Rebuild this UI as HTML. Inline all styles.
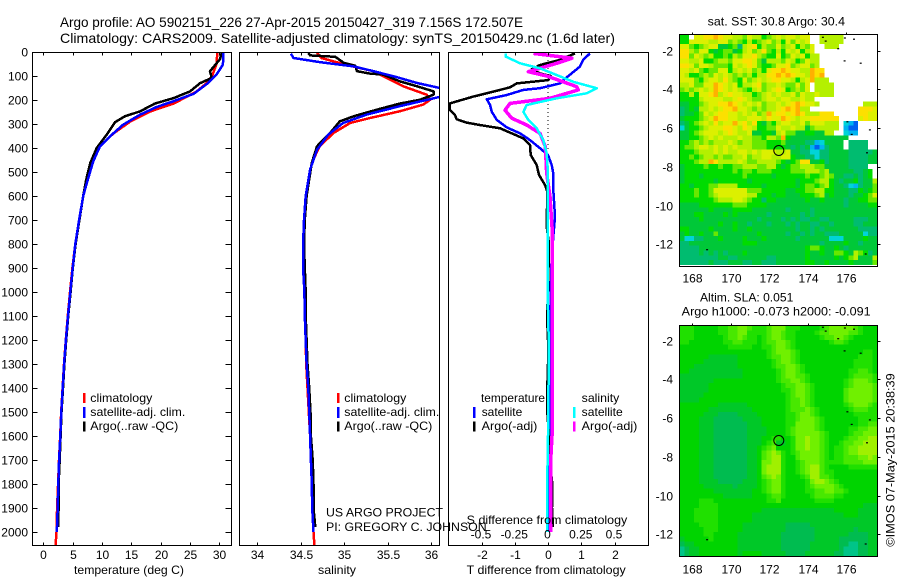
<!DOCTYPE html>
<html>
<head>
<meta charset="utf-8">
<title>Argo profile 5902151_226</title>
<style>
html,body{margin:0;padding:0;background:#fff;width:900px;height:580px;overflow:hidden}
svg{display:block}
text{font-family:"Liberation Sans",sans-serif;font-size:12px;fill:#000}
</style>
</head>
<body>
<svg id="chart" width="900" height="580" viewBox="0 0 900 580" xmlns="http://www.w3.org/2000/svg">
<defs>
<clipPath id="clip1"><rect x="32.5" y="52.5" width="199" height="493"/></clipPath>
<clipPath id="clip2"><rect x="239.5" y="52.5" width="200" height="493"/></clipPath>
<clipPath id="clip3"><rect x="448.5" y="52.5" width="200" height="493"/></clipPath>
</defs>
<text x="60" y="27" font-size="14" style="font-size:14px" textLength="463" lengthAdjust="spacingAndGlyphs">Argo profile: AO 5902151_226 27-Apr-2015 20150427_319 7.156S 172.507E</text>
<text x="60" y="43" style="font-size:14px" textLength="555" lengthAdjust="spacingAndGlyphs">Climatology: CARS2009. Satellite-adjusted climatology: synTS_20150429.nc (1.6d later)</text>

<g id="layer-maps"></g>
<g id="layer-lines1" clip-path="url(#clip1)"></g>
<g id="layer-lines2" clip-path="url(#clip2)"></g>
<g id="layer-lines3" clip-path="url(#clip3)"></g>
<g id="layer-axes"></g>

<text x="129" y="574" text-anchor="middle" textLength="110" lengthAdjust="spacingAndGlyphs">temperature (deg C)</text>
<text x="337" y="574" text-anchor="middle" textLength="38" lengthAdjust="spacingAndGlyphs">salinity</text>
<text x="466.7" y="574" textLength="159" lengthAdjust="spacingAndGlyphs">T difference from climatology</text>
<text x="466.7" y="524" textLength="160.6" lengthAdjust="spacingAndGlyphs">S difference from climatology</text>

<g>
<rect x="83" y="393" width="2.5" height="10" fill="#ff0000"/>
<rect x="83" y="407" width="2.5" height="11" fill="#0000ff"/>
<rect x="83" y="421.5" width="2.5" height="10" fill="#000"/>
<text x="90.3" y="402" textLength="62" lengthAdjust="spacingAndGlyphs">climatology</text>
<text x="90.3" y="416" textLength="95" lengthAdjust="spacingAndGlyphs">satellite-adj. clim.</text>
<text x="90.3" y="430" textLength="88" lengthAdjust="spacingAndGlyphs">Argo(..raw -QC)</text>
</g>
<g>
<rect x="337" y="393" width="2.5" height="10" fill="#ff0000"/>
<rect x="337" y="407" width="2.5" height="11" fill="#0000ff"/>
<rect x="337" y="421.5" width="2.5" height="10" fill="#000"/>
<text x="344.3" y="402" textLength="62" lengthAdjust="spacingAndGlyphs">climatology</text>
<text x="344.3" y="416" textLength="95" lengthAdjust="spacingAndGlyphs">satellite-adj. clim.</text>
<text x="344.3" y="430" textLength="88" lengthAdjust="spacingAndGlyphs">Argo(..raw -QC)</text>
</g>
<g>
<text x="481" y="402" textLength="64" lengthAdjust="spacingAndGlyphs">temperature</text>
<rect x="473" y="407" width="2.5" height="11" fill="#0000ff"/>
<rect x="473" y="421.5" width="2.5" height="10" fill="#000"/>
<text x="481.7" y="416" textLength="40.6" lengthAdjust="spacingAndGlyphs">satellite</text>
<text x="481.7" y="430" textLength="55.6" lengthAdjust="spacingAndGlyphs">Argo(-adj)</text>
<text x="581.7" y="402" textLength="37.6" lengthAdjust="spacingAndGlyphs">salinity</text>
<rect x="573" y="407" width="2.5" height="11" fill="#00ffff"/>
<rect x="573" y="421.5" width="2.5" height="10" fill="#ff00ff"/>
<text x="581.7" y="416" textLength="41" lengthAdjust="spacingAndGlyphs">satellite</text>
<text x="581.7" y="430" textLength="55.6" lengthAdjust="spacingAndGlyphs">Argo(-adj)</text>
</g>

<text x="326" y="516.7" textLength="117" lengthAdjust="spacingAndGlyphs">US ARGO PROJECT</text>
<text x="326" y="531" textLength="160.7" lengthAdjust="spacingAndGlyphs">PI: GREGORY C. JOHNSON</text>

<text x="707.7" y="25.5" textLength="137.3" lengthAdjust="spacingAndGlyphs">sat. SST: 30.8 Argo: 30.4</text>
<text x="700" y="301.7" textLength="93.3" lengthAdjust="spacingAndGlyphs">Altim. SLA: 0.051</text>
<text x="681.7" y="315.3" textLength="189" lengthAdjust="spacingAndGlyphs">Argo h1000: -0.073 h2000: -0.091</text>
<text transform="translate(894.5,546.7) rotate(-90)" textLength="173.4" lengthAdjust="spacingAndGlyphs">©IMOS 07-May-2015 20:38:39</text>
</svg>

<script>
// ---- axis ticks ----
const depthTicks = [0,100,200,300,400,500,600,700,800,900,1000,1100,1200,1300,1400,1500,1600,1700,1800,1900,2000];
const tempTicks = [0,5,10,15,20,25,30];
const salinityTicks = [34,34.5,35,35.5,36];
const salinityTickLabels = ['34','34.5','35','35.5','36'];
const tDiffTicks = [-2,-1,0,1,2];
const sDiffTicks = [-0.5,-0.25,0,0.25,0.5];
const sDiffTickLabels = ['-0.5','-0.25','0','0.25','0.5'];
const lonTicks = [168,170,172,174,176];
const latTicks = [-2,-4,-6,-8,-10,-12];

// ---- temperature profiles (depth m, deg C) ----
const tempClimDepth = [0,50,100,130,165,215,248,290,340,393,450,532,600,700,800,900,1000,1100,1200,1300,1400,1500,1600,1700,1800,1900,2000,2054];
const tempClimValue = [29.66,29.5,28.75,27.8,26.1,22.2,18.2,14.8,11.9,9.66,8.5,7.4,6.8,6.1,5.45,4.95,4.55,4.18,3.83,3.53,3.28,3.05,2.88,2.68,2.52,2.35,2.25,2.1];
const tempArgoDepth = [4,30,80,108,130,164,192,215,247,268,293,344,400,462,532,600,700,800,900,1000,1100,1200,1300,1400,1500,1600,1700,1800,1900,1980];
const tempArgoValue = [30.4,30.1,28.4,28.7,26.7,25,22.2,19,16.5,13.9,12.2,10.8,9.1,8,7.3,6.8,6.15,5.5,5.02,4.65,4.25,3.9,3.6,3.35,3.1,2.95,2.8,2.6,2.6,2.5];
const tempSatDepth = [4,53,94,129,174,205,229,261,303,351,393,456,539,600,700,800,900,1000,1100,1200,1300,1400,1500,1600,1700,1800,1900,2000];
const tempSatValue = [30.7,30.6,29.5,28.1,25.6,22.2,19.3,16.5,13.6,11.4,9.66,8.5,7.5,6.8,6.1,5.45,5,4.6,4.2,3.85,3.55,3.3,3.07,2.9,2.7,2.55,2.45,2.3];

// ---- salinity profiles (depth m, psu) ----
const salClimDepth = [4,25,39,60,80,108,143,178,199,219,247,275,296,337,393,462,600,700,800,900,1000,1100,1200,1300,1400,1500,1600,1700,1800,1900,2000,2054];
const salClimValue = [34.69,34.74,34.88,35.1,35.34,35.49,35.68,35.95,35.99,35.91,35.64,35.3,35.07,34.88,34.72,34.63,34.56,34.54,34.535,34.54,34.545,34.55,34.56,34.565,34.58,34.595,34.61,34.62,34.63,34.635,34.65,34.66];
const salArgoDepth = [4,14,20,46,57,80,90,94,122,143,164,178,199,215,240,268,289,337,393,462,600,700,800,900,1000,1100,1200,1300,1400,1500,1600,1700,1800,1900,1980];
const salArgoValue = [34.59,34.61,34.9,35,35.13,35.15,35.3,35.45,35.64,35.84,36.03,36.03,35.87,35.64,35.38,35.11,34.95,34.84,34.69,34.63,34.57,34.55,34.54,34.55,34.56,34.56,34.57,34.58,34.6,34.615,34.62,34.64,34.65,34.65,34.67];
const salSatDepth = [7,25,42,60,80,104,129,150,168,187,226,261,296,344,407,490,600,700,800,900,1000,1100,1200,1300,1400,1500,1600,1700,1800,1900,2000];
const salSatValue = [34.39,34.42,34.72,35.11,35.34,35.6,35.84,36.1,36.3,36.1,35.64,35.26,34.99,34.82,34.69,34.61,34.56,34.54,34.53,34.53,34.545,34.55,34.56,34.57,34.59,34.6,34.61,34.62,34.63,34.635,34.65];

// ---- difference profiles ----
const diffTSatDepth = [6,33,61,89,117,131,151,158,179,197,221,249,283,314,339,367,401,429,471,506,575,686,769,853,1000,1200,1500,1800,2000];
const diffTSatValue = [1.26,1.06,0.96,0.71,0.46,0.36,-0.24,-0.74,-1.24,-1.84,-1.74,-1.69,-1.54,-1.24,-0.84,-0.54,-0.24,0,0.11,0.16,0.16,0.21,0.16,0.11,0.08,0.06,0.05,0.04,0.05];
const diffTArgoDepth = [6,33,54,72,89,100,117,131,147,165,186,214,242,262,280,294,304,318,339,360,387,429,471,512,554,582,728,800,1000,1100,1200,1300,1400,1500,1600,1700,1800,1900,1980];
const diffTArgoValue = [0.81,0.36,-0.24,-0.49,-0.24,0.08,0.01,-0.94,-1.14,-1.64,-2.25,-2.95,-2.95,-2.8,-2.75,-2.45,-2.05,-1.44,-1.09,-0.74,-0.54,-0.52,-0.34,-0.27,-0.09,-0.02,-0.04,0.03,0,-0.03,0,0,-0.02,-0.02,0.03,0.05,0.13,0.12,0.15];
const diffSSatDepth = [6,19,47,68,96,124,151,172,193,221,249,283,318,367,422,506,603,728,853,1000,1200,1500,1800,2000];
const diffSSatValue = [-0.318,-0.318,-0.21,-0.06,0.065,0.19,0.366,0.29,0.065,-0.16,-0.185,-0.148,-0.085,-0.035,-0.01,0,-0.003,-0.003,-0.003,-0.003,0.005,0.003,-0.006,-0.006];
const diffSArgoDepth = [6,26,47,82,100,144,158,193,214,242,276,304,339,394,506,603,728,853,1000,1200,1400,1500,1600,1700,2000];
const diffSArgoValue = [-0.11,0.18,0.065,-0.148,-0.01,0.215,0.228,0.015,-0.286,-0.323,-0.273,-0.16,-0.06,-0.02,-0.01,0.015,0.03,0.03,0.03,0.03,0.03,0.03,0.03,0.02,0.02];

// ---- map values: one character per 0.25 degree cell, '.' is missing ----
const sstLevelColors = ['#0060f0','#00b4f0','#00d4d8','#00bc70','#00c838','#00dc00','#68e800','#b4f000','#dcf000','#fce000','#ffb000'];
const sstRows = [
"55.8899a98 8776877567 8788788..7 7777...... .",
"5588887788 6765756786 7586878..7 7777...... .",
"8865678844 5637895766 86785768.. 777....... .",
"9976885456 6457867965 75878578.. .......... .",
"9968767556 5768897655 856878577. .......... .",
"8877855677 6889986477 768756877. .......... .",
"9986887666 5878986556 889678867. .......... .",
"8878656688 5787867589 9a98877a99 .......... .",
"8755676878 7676757799 a9a9887a9a .......... .",
"8886578879 7658678789 9887578a77 7......... .",
"7786688a98 7857789677 8766868.77 77........ .",
"6767878a98 7876578678 9856768.77 77........ .",
"5575889a78 9887756787 8778687787 77........ .",
"5555788887 7898766788 78877877.. .......... .",
"4455678899 a987878677 8789a9887. ........77 7",
"3454778789 9a88767677 89a9a77... .......999 8",
"3445687899 88787867a8 9989a97779 99.....998 8",
"4555678a99 8877888798 8a98788999 999....898 8",
"3456787978 8a89795465 7887786888 777.210... .",
"2455678889 9879875566 8778774677 777.100... .",
"4456788878 9877844554 7866445544 77..211... .",
"4455678787 7787766577 6a54444444 44444..... .",
"5567676777 8767766655 5644443312 4444.3333. .",
"5667887878 7877766655 5543434101 3444.3333. .",
"5556777878 7788787888 7784433223 3444433333 4",
"5565677676 6778677887 7885443323 3444433334 4",
"555677a977 7787667777 6545699445 3444433334 4",
"4555565565 5667776677 5456677766 444443333. .",
"4555555555 5656656665 5556667776 7444443345 .",
"4555455555 5556555554 5555556556 7644334345 .",
"4555555455 5555455555 5555455567 7543445344 7",
"5545556677 7755555455 5555456656 7544321344 6",
"5556556888 8888666555 5544556677 5544433545 6",
"5556556788 8888775554 5544455567 4544434456 8",
"5555555677 7887655355 4444445445 4444344556 6",
"4444555555 5666555544 4444444444 4444344445 5",
"4444445444 4555544444 4434444344 4444444444 4",
"4445544445 4544444434 4444434344 4444444444 4",
"4444544444 4444443444 4343433443 3444443334 4",
"4444444454 4544344434 4434344334 4344443344 4",
"5544445444 4544544444 4444344343 4444444333 3",
"4544544644 4444445444 4434434344 3334444423 3",
"4223344454 4445444544 4444344444 4222444454 4",
"3344444444 4445554444 4444444443 4444544344 4",
"3333444444 4444444444 4444445665 4454344444 4",
"3333434343 4445444444 4444445445 4466547653 4",
"3333333344 3344444433 4444445444 4454567444 7",
"3333334333 4443344333 4444445544 5444454444 6"
];
const slaLevelColors = ['#00c488','#00bc50','#00c828','#00d400','#20e000','#48e800','#70f000','#a0f000'];
const slaRows = [
"4443333344 5566544456 6644433334 5666665433 3",
"4443333344 5566444456 6544333345 5666655433 3",
"4443333334 5565443456 6544333334 5566543333 3",
"4433333334 4554443455 6654333333 3455433333 3",
"3333333333 4444433445 6654333333 3333333333 3",
"3333333333 3333333345 6665433333 3333333344 3",
"3333332222 2233333345 5665433333 3333333444 3",
"3333322222 2233333334 5665433333 3333334444 3",
"3332222222 2233333334 5566543333 3333334444 3",
"3322222222 2223333333 4566543333 3333344554 3",
"2222222222 2223333333 4566554333 3333345555 4",
"2222222333 3333333333 4556654333 3333456665 4",
"2222223333 3333333333 3455665433 3333456666 5",
"2222223333 3333333333 3445665433 3333566666 5",
"2222233333 3333333333 3345665433 3333566666 5",
"2222333333 3333333333 3345565433 3333566666 5",
"3333333322 2222333333 3345565433 3333456665 4",
"3333332222 2222233333 3345556543 3333345554 4",
"3333322211 1122223333 3344566543 3333334444 4",
"3333222111 1112222333 3344566654 3333333444 4",
"3333222111 1111222333 3344666654 3333333445 5",
"3333222111 1111222233 3345666654 3333344556 6",
"3333222111 1111222233 3345666665 4333345566 6",
"3333222111 1111222334 4334667665 4333455667 7",
"3333222111 1111222345 2234667665 4334556677 7",
"3333222111 1111223456 3334667665 4344566777 7",
"3333222111 1111223567 6434566665 4344566777 7",
"3333222111 1111223567 7433566665 4344555667 6",
"3333222111 1111223667 7433456665 4444555566 6",
"3333222111 1111223677 7433456775 4333344444 4",
"3333222111 1111223677 7433456775 4433333333 3",
"3333222111 1111223567 6433345775 5433333333 3",
"3333222211 1112223456 6433334677 6543333333 3",
"3333322222 2122223456 6433334566 6654333333 3",
"3333333222 2222233456 6433334455 6655433333 3",
"3333333332 2222233345 5433333455 5544333333 3",
"3333444333 3333333344 5333333344 4433333333 3",
"3333444433 3333333333 3333333333 3333333322 2",
"3334444433 3333333222 2222222222 2233333222 2",
"3334444433 3333322222 2222222222 2222333222 2",
"3334444433 3333322222 2222222222 2222222222 2",
"3333444433 3332222222 2211111222 2222222222 2",
"3333344433 3332222222 2211111122 2222221222 2",
"3333344333 3322222222 2111111122 2222211112 2",
"2333334333 3322222222 2111111122 2221111112 2",
"1223333333 3322222222 2111111222 2221100112 2",
"0122333333 3322222222 2111111222 2221000112 2",
"0122333333 3323333222 2211112222 2211000112 2"
];
const islandLon = [174.8,174.95,175.95,176.42,175.6,175.93,176.77,176.08,176.3,177.25,177.1,177.03,168.77];
const islandLat = [-1.3,-1.5,-1.34,-1.4,-1.89,-2.52,-2.64,-5.67,-6.32,-6.09,-7.27,-12.5,-12.28];
const profileLon = 172.507;
const profileLat = -7.156;

// ---- scales ----
const NS = 'http://www.w3.org/2000/svg';
const yDepth = d => 52 + 0.24 * d;
const xTemp = t => 43.3 + 5.87 * t;
const xSal = s => 257 + 87 * (s - 34);
const xDT = v => 548 + 33.25 * v;
const xDS = v => 548 + 133 * v;
const xLon = l => 692.3 + 19.2 * (l - 168);
const latToY1 = l => 50.7 + 19.35 * (-2 - l);
const latToY2 = l => 340.7 + 19.35 * (-2 - l);

const layerMaps = document.getElementById('layer-maps');
const layerAxes = document.getElementById('layer-axes');

function line(parent, depths, values, xf, color, width, name) {
  const el = document.createElementNS(NS, 'polyline');
  el.setAttribute('points', depths.map((d, i) => xf(values[i]).toFixed(1) + ',' + yDepth(d).toFixed(1)).join(' '));
  el.setAttribute('fill', 'none');
  el.setAttribute('stroke', color);
  el.setAttribute('stroke-width', width);
  el.setAttribute('stroke-linejoin', 'round');
  el.setAttribute('shape-rendering', 'crispEdges');
  
  
  parent.appendChild(el);
}
function tick(x1, y1, x2, y2) {
  const el = document.createElementNS(NS, 'line');
  el.setAttribute('x1', x1);
  el.setAttribute('y1', y1);
  el.setAttribute('x2', x2);
  el.setAttribute('y2', y2);
  el.setAttribute('stroke', '#000');
  el.setAttribute('shape-rendering', 'crispEdges');
  
  
  layerAxes.appendChild(el);
}
function label(x, y, str, anchor) {
  const el = document.createElementNS(NS, 'text');
  el.setAttribute('x', x);
  el.setAttribute('y', y);
  el.setAttribute('text-anchor', anchor);
  el.textContent = str;
  
  
  layerAxes.appendChild(el);
}
function frame(x, y, w, h, name) {
  const el = document.createElementNS(NS, 'rect');
  el.setAttribute('x', x);
  el.setAttribute('y', y);
  el.setAttribute('width', w);
  el.setAttribute('height', h);
  el.setAttribute('fill', 'none');
  el.setAttribute('stroke', '#000');
  el.setAttribute('shape-rendering', 'crispEdges');
  
  
  layerAxes.appendChild(el);
}

// ---- profile lines ----
const g1 = document.getElementById('layer-lines1');
line(g1, tempClimDepth, tempClimValue, xTemp, '#ff0000', 2.5, 'temperature-climatology-line');
line(g1, tempArgoDepth, tempArgoValue, xTemp, '#000000', 2.5, 'temperature-argo-line');
line(g1, tempSatDepth, tempSatValue, xTemp, '#0000ff', 2.5, 'temperature-satellite-line');
const g2 = document.getElementById('layer-lines2');
line(g2, salClimDepth, salClimValue, xSal, '#ff0000', 2.5, 'salinity-climatology-line');
line(g2, salArgoDepth, salArgoValue, xSal, '#000000', 2.5, 'salinity-argo-line');
line(g2, salSatDepth, salSatValue, xSal, '#0000ff', 2.5, 'salinity-satellite-line');
const g3 = document.getElementById('layer-lines3');
const zeroLine = document.createElementNS(NS, 'line');
zeroLine.setAttribute('x1', xDT(0));
zeroLine.setAttribute('x2', xDT(0));
zeroLine.setAttribute('y1', 52);
zeroLine.setAttribute('y2', 150);
zeroLine.setAttribute('stroke', '#000');
zeroLine.setAttribute('stroke-dasharray', '1 3');


g3.appendChild(zeroLine);
line(g3, diffTSatDepth, diffTSatValue, xDT, '#0000ff', 2.5, 't-diff-satellite-line');
line(g3, diffTArgoDepth, diffTArgoValue, xDT, '#000000', 2.5, 't-diff-argo-line');
line(g3, diffSArgoDepth, diffSArgoValue, xDS, '#ff00ff', 3.5, 's-diff-argo-line');
line(g3, diffSSatDepth, diffSSatValue, xDS, '#00ffff', 2.5, 's-diff-satellite-line');

// ---- profile axes ----
frame(32.5, 52.5, 199, 493, 'temperature-panel-frame');
frame(239.5, 52.5, 200, 493, 'salinity-panel-frame');
frame(448.5, 52.5, 200, 493, 'difference-panel-frame');
depthTicks.forEach(d => {
  const y = Math.round(yDepth(d)) + 0.5;
  tick(32.5, y, 37.5, y);
  tick(225.5, y, 231.5, y);
  label(28, y + 4, String(d), 'end');
});
tempTicks.forEach(t => {
  const x = Math.round(xTemp(t)) + 0.5;
  tick(x, 52.5, x, 55.5);
  tick(x, 542.5, x, 545.5);
  label(x, 559, String(t), 'middle');
});
salinityTicks.forEach((s, i) => {
  const x = Math.round(xSal(s)) + 0.5;
  tick(x, 52.5, x, 55.5);
  tick(x, 542.5, x, 545.5);
  label(x, 559, salinityTickLabels[i], 'middle');
});
tDiffTicks.forEach(v => {
  const x = Math.round(xDT(v)) + 0.5;
  tick(x, 52.5, x, 55.5);
  tick(x, 542.5, x, 545.5);
  label(x, 559, String(v), 'middle');
});
sDiffTicks.forEach((v, i) => {
  label(xDS(v) - 0.5, 538.7, sDiffTickLabels[i], 'middle');
});

// ---- maps ----
const cellW = 198 / 41;
const cellH = 4.8;
function heatmap(rows, colors, top, name) {
  rows.forEach((row, r) => {
    const chars = row.replace(/ /g, '');
    for (let c = 0; c < chars.length; c++) {
      if (chars[c] === '.') continue;
      const el = document.createElementNS(NS, 'rect');
      el.setAttribute('x', (679.5 + c * cellW).toFixed(2));
      el.setAttribute('y', (top + r * cellH).toFixed(2));
      el.setAttribute('width', cellW.toFixed(2));
      el.setAttribute('height', cellH.toFixed(2));
      el.setAttribute('fill', colors[parseInt(chars[c], 16)]);
      el.setAttribute('shape-rendering', 'crispEdges');
      
      
      layerMaps.appendChild(el);
    }
  });
}
heatmap(sstRows, sstLevelColors, 34.5, 'sst-cell');
heatmap(slaRows, slaLevelColors, 325.5, 'sla-cell');

function mapOverlay(latToY, frameTop, frameH, labelY, frameName) {
  islandLon.forEach((lon, i) => {
    const el = document.createElementNS(NS, 'rect');
    el.setAttribute('x', (xLon(lon) - 1).toFixed(1));
    el.setAttribute('y', (latToY(islandLat[i]) - 0.5).toFixed(1));
    el.setAttribute('width', 2);
    el.setAttribute('height', 1.2);
    el.setAttribute('fill', '#000');
    
    
    layerAxes.appendChild(el);
  });
  frame(679.5, frameTop, 198, frameH, frameName);
  lonTicks.forEach(l => {
    const x = Math.round(xLon(l)) + 0.5;
    tick(x, frameTop - 2, x, frameTop);
    label(x, labelY, String(l), 'middle');
  });
  latTicks.forEach(l => {
    const y = Math.round(latToY(l)) + 0.5;
    tick(877.5, y, 880.5, y);
    label(673, y + 4, String(l), 'end');
  });
  const dot = document.createElementNS(NS, 'circle');
  dot.setAttribute('cx', xLon(profileLon).toFixed(1));
  dot.setAttribute('cy', latToY(profileLat).toFixed(1));
  dot.setAttribute('r', 5);
  dot.setAttribute('fill', 'none');
  dot.setAttribute('stroke', '#000');
  
  
  layerAxes.appendChild(dot);
}
mapOverlay(latToY1, 34.5, 232, 282.7, 'sst-map-frame');
mapOverlay(latToY2, 325.5, 231, 573.3, 'sla-map-frame');
</script>
</body>
</html>
